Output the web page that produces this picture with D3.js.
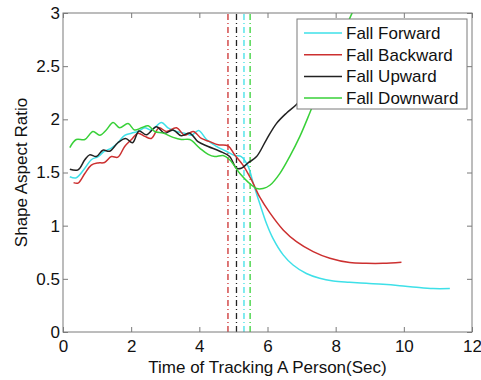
<!DOCTYPE html>
<html>
<head>
<meta charset="utf-8">
<script src="https://cdn.jsdelivr.net/npm/d3@7"></script>
<style>
  body { margin: 0; background: #fff; }
  svg text { font-family: "Liberation Sans", Arial, sans-serif; fill: #111; }
</style>
</head>
<body>
<svg id="chart" width="481" height="380"></svg>
<script>
// values
const xTicks = [0, 2, 4, 6, 8, 10, 12];
const yTicks = [0, 0.5, 1, 1.5, 2, 2.5, 3];

const fallForward = [
  [0.2, 1.46], [0.39, 1.45], [0.64, 1.54], [0.83, 1.62], [1.03, 1.65], [1.22, 1.70],
  [1.42, 1.73], [1.61, 1.78], [1.81, 1.85], [2.01, 1.87], [2.2, 1.886], [2.4, 1.92],
  [2.59, 1.9], [2.89, 1.97], [3.08, 1.92], [3.33, 1.886], [3.57, 1.87], [3.77, 1.85],
  [3.98, 1.895], [4.21, 1.81], [4.5, 1.745], [4.79, 1.70], [5.04, 1.66], [5.23, 1.65],
  [5.43, 1.56], [5.58, 1.40], [5.77, 1.21], [5.97, 1.02], [6.16, 0.88], [6.46, 0.725],
  [6.75, 0.63], [7.14, 0.55], [7.53, 0.505], [7.93, 0.48], [8.41, 0.468], [8.9, 0.458],
  [9.39, 0.449], [9.88, 0.436], [10.37, 0.42], [10.86, 0.408], [11.35, 0.408]
];

const fallBackward = [
  [0.31, 1.405], [0.44, 1.40], [0.64, 1.49], [0.83, 1.57], [1.03, 1.59], [1.22, 1.594],
  [1.42, 1.65], [1.61, 1.644], [1.81, 1.745], [2.01, 1.81], [2.2, 1.87], [2.4, 1.84],
  [2.59, 1.82], [2.82, 1.92], [3.03, 1.886], [3.33, 1.92], [3.57, 1.85], [3.82, 1.886],
  [4.06, 1.82], [4.31, 1.79], [4.55, 1.76], [4.84, 1.75], [5.04, 1.665], [5.28, 1.57],
  [5.53, 1.43], [5.77, 1.27], [6.07, 1.12], [6.46, 0.96], [6.85, 0.85], [7.34, 0.756],
  [7.83, 0.693], [8.41, 0.653], [8.9, 0.646], [9.39, 0.646], [9.93, 0.656]
];

const fallUpward = [
  [0.2, 1.53], [0.44, 1.525], [0.64, 1.62], [0.78, 1.666], [0.98, 1.65], [1.17, 1.71],
  [1.37, 1.70], [1.61, 1.78], [1.84, 1.82], [2.04, 1.78], [2.23, 1.89], [2.45, 1.855],
  [2.74, 1.93], [2.98, 1.87], [3.23, 1.90], [3.47, 1.845], [3.72, 1.87], [3.96, 1.79],
  [4.26, 1.745], [4.6, 1.70], [4.89, 1.65], [5.09, 1.54], [5.23, 1.54], [5.43, 1.59],
  [5.68, 1.65], [5.97, 1.81], [6.26, 1.96], [6.56, 2.06], [6.85, 2.14], [7.14, 2.25],
  [7.53, 2.37]
];

const fallDownward = [
  [0.2, 1.735], [0.39, 1.81], [0.64, 1.81], [0.88, 1.886], [1.08, 1.85], [1.27, 1.90],
  [1.47, 1.97], [1.66, 1.92], [1.91, 1.96], [2.1, 1.90], [2.3, 1.92], [2.5, 1.94],
  [2.69, 1.886], [2.94, 1.87], [3.23, 1.83], [3.47, 1.81], [3.72, 1.81], [4.01, 1.73],
  [4.26, 1.67], [4.45, 1.65], [4.7, 1.66], [4.89, 1.62], [5.19, 1.49], [5.43, 1.41],
  [5.68, 1.35], [5.87, 1.35], [6.07, 1.38], [6.36, 1.49], [6.65, 1.65], [6.95, 1.84],
  [7.24, 2.06], [7.44, 2.22], [7.68, 2.40], [7.93, 2.59], [8.22, 2.81], [8.51, 3.02]
];

// fall instants (dash-dot markers)
const markerTimes = [4.84, 5.09, 5.31, 5.49];

const seriesNames = ['Fall Forward', 'Fall Backward', 'Fall Upward', 'Fall Downward'];
const seriesData = [fallForward, fallBackward, fallUpward, fallDownward];
const colors = ['#3ee0e8', '#cc3030', '#222222', '#38d038'];
const markerColors = ['#cc3030', '#222222', '#3ee0e8', '#38d038'];

const margin = {top: 13, right: 9, bottom: 48, left: 63};
const width = 481, height = 380;
const fontSize = 17;
const svg = d3.select('#chart');

const x = d3.scaleLinear().domain([0, 12]).range([margin.left, width - margin.right]);
const y = d3.scaleLinear().domain([0, 3]).range([height - margin.bottom, margin.top]);

svg.append('defs').append('clipPath').attr('id', 'plot')
  .append('rect')
  .attr('x', x(0)).attr('y', y(3))
  .attr('width', x(12) - x(0)).attr('height', y(0) - y(3));

const axisColor = '#7a7a7a';

// axes with inward ticks on all four sides
const styleAxis = g => {
  g.select('.domain').remove();
  g.selectAll('line').attr('stroke', axisColor);
  g.selectAll('text').attr('font-size', fontSize).attr('fill', '#111')
    .style('font-family', '"Liberation Sans", Arial, sans-serif');
};

svg.append('g')
  .attr('transform', `translate(0,${y(0)})`)
  .call(d3.axisBottom(x).tickValues(xTicks).tickSize(-5).tickPadding(8).tickFormat(d3.format('d')))
  .call(styleAxis);

svg.append('g')
  .attr('transform', `translate(0,${y(3)})`)
  .call(d3.axisTop(x).tickValues(xTicks).tickSize(-5).tickFormat(''))
  .call(styleAxis);

svg.append('g')
  .attr('transform', `translate(${x(0)},0)`)
  .call(d3.axisLeft(y).tickValues(yTicks).tickSize(-5).tickPadding(3).tickFormat(d => d3.format('')(d)))
  .call(styleAxis);

svg.append('g')
  .attr('transform', `translate(${x(12)},0)`)
  .call(d3.axisRight(y).tickValues(yTicks).tickSize(-5).tickFormat(''))
  .call(styleAxis);

const plot = svg.append('g').attr('clip-path', 'url(#plot)');

plot.selectAll('.marker')
  .data(markerTimes)
  .enter()
  .append('line')
  .attr('class', 'marker')
  .attr('x1', d => x(d)).attr('x2', d => x(d))
  .attr('y1', y(0)).attr('y2', y(3))
  .attr('stroke', (_, i) => markerColors[i])
  .attr('stroke-width', 1.3)
  .attr('stroke-dasharray', '6,3,1,3');

const line = d3.line()
  .x(d => x(d[0]))
  .y(d => y(d[1]))
  .curve(d3.curveCatmullRom.alpha(0.5));

plot.selectAll('.series')
  .data(seriesData)
  .enter()
  .append('path')
  .attr('class', 'series')
  .attr('d', d => line(d))
  .attr('fill', 'none')
  .attr('stroke', (_, i) => colors[i])
  .attr('stroke-width', 1.5);

// plot box
svg.append('rect')
  .attr('x', x(0)).attr('y', y(3))
  .attr('width', x(12) - x(0)).attr('height', y(0) - y(3))
  .attr('fill', 'none')
  .attr('stroke', axisColor);

// legend
const legend = svg.append('g').attr('transform', `translate(297,19)`);
legend.append('rect')
  .attr('width', 170).attr('height', 90)
  .attr('fill', '#fff')
  .attr('stroke', axisColor);

const rows = legend.selectAll('.row')
  .data(seriesNames)
  .enter()
  .append('g')
  .attr('class', 'row')
  .attr('transform', (_, i) => `translate(0,${14 + i * 21.7})`);

rows.append('line')
  .attr('x1', 7).attr('x2', 45)
  .attr('stroke', (_, i) => colors[i])
  .attr('stroke-width', 1.5);

rows.append('text')
  .attr('x', 49).attr('y', 6)
  .attr('font-size', fontSize)
  .text(d => d);

// axis labels
svg.append('text')
  .attr('x', (x(0) + x(12)) / 2)
  .attr('y', 373)
  .attr('text-anchor', 'middle')
  .attr('font-size', fontSize)
  .text('Time of Tracking A Person(Sec)');

svg.append('text')
  .attr('transform', `translate(27,${(y(0) + y(3)) / 2}) rotate(-90)`)
  .attr('text-anchor', 'middle')
  .attr('font-size', fontSize)
  .text('Shape Aspect Ratio');
</script>
</body>
</html>
